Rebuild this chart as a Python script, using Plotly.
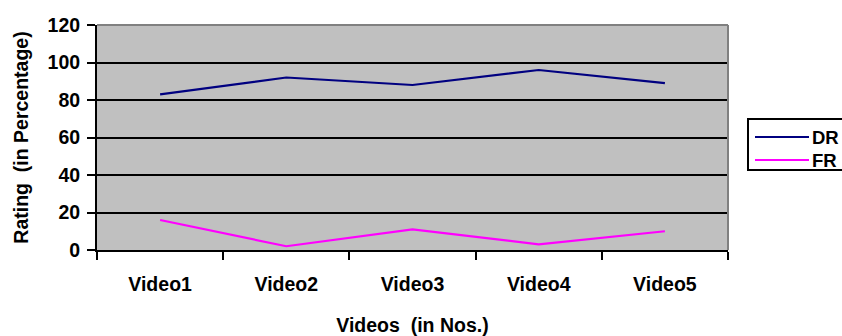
import plotly.graph_objects as go

# Chart data
videos = ["Video1", "Video2", "Video3", "Video4", "Video5"]
dr_values = [83, 92, 88, 96, 89]
fr_values = [16, 2, 11, 3, 10]
series_names = ["DR", "FR"]
series_colors = ["#000080", "#FF00FF"]

FONT = "Liberation Sans, Arial, sans-serif"
FS = 19.5

fig = go.Figure()
for name, vals, color in zip(series_names, [dr_values, fr_values], series_colors):
    fig.add_trace(go.Scatter(x=videos, y=vals, mode="lines", name=name,
                             line=dict(color=color, width=2.2), showlegend=False))

fig.update_layout(
    width=842, height=336,
    margin=dict(l=97, r=114, t=25, b=86),
    paper_bgcolor="white",
    plot_bgcolor="#C0C0C0",
    font=dict(family=FONT, size=FS, color="black"),
)

fig.update_xaxes(
    type="category", range=[-0.5, 4.5], automargin=False,
    tickson="boundaries", ticks="outside", ticklen=8, tickwidth=2, tickcolor="black",
    ticklabelstandoff=16,
    showline=True, linecolor="black", linewidth=2,
    showgrid=False, zeroline=False,
    tickfont=dict(family=FONT, size=FS, color="black", weight="bold"),
    title=dict(text="<b>Videos  (in Nos.)</b>", font=dict(family=FONT, size=FS), standoff=24),
)
fig.update_yaxes(
    range=[0, 120], dtick=20, tick0=0, automargin=False,
    ticks="outside", ticklen=8, tickwidth=2, tickcolor="black",
    ticklabelstandoff=3,
    showline=True, linecolor="black", linewidth=2,
    showgrid=True, gridcolor="black", gridwidth=2, zeroline=False,
    tickfont=dict(family=FONT, size=FS, color="black", weight="bold"),
    title=dict(text="<b>Rating  (in Percentage)</b>", font=dict(family=FONT, size=FS), standoff=14),
)

# Gray frame along the top and right of the plot area
fig.add_shape(type="line", xref="paper", yref="paper", x0=0, x1=1, y0=1, y1=1,
              line=dict(color="#808080", width=2))
fig.add_shape(type="line", xref="paper", yref="paper", x0=1, x1=1, y0=0, y1=1,
              line=dict(color="#808080", width=2))

# Legend box at the right
plot_w = 842 - 97 - 114
def px_to_paper_x(px):
    return (px - 97) / plot_w
plot_h = 336 - 25 - 86
def py_to_paper_y(py):
    return (336 - 86 - py) / plot_h

fig.add_shape(type="rect", xref="paper", yref="paper",
              x0=px_to_paper_x(748), x1=px_to_paper_x(860),
              y0=py_to_paper_y(170), y1=py_to_paper_y(119),
              line=dict(color="black", width=2), fillcolor="white")
for i, (name, color) in enumerate(zip(series_names, series_colors)):
    yy = 137 + i * 23
    fig.add_shape(type="line", xref="paper", yref="paper",
                  x0=px_to_paper_x(755), x1=px_to_paper_x(809),
                  y0=py_to_paper_y(yy), y1=py_to_paper_y(yy),
                  line=dict(color=color, width=2.2))
    fig.add_annotation(xref="paper", yref="paper", x=px_to_paper_x(812), y=py_to_paper_y(yy),
                       text=f"<b>{name}</b>", showarrow=False, xanchor="left", yanchor="middle",
                       xshift=-2, font=dict(family=FONT, size=FS - 1, color="black"))

fig.write_html("out.html")
